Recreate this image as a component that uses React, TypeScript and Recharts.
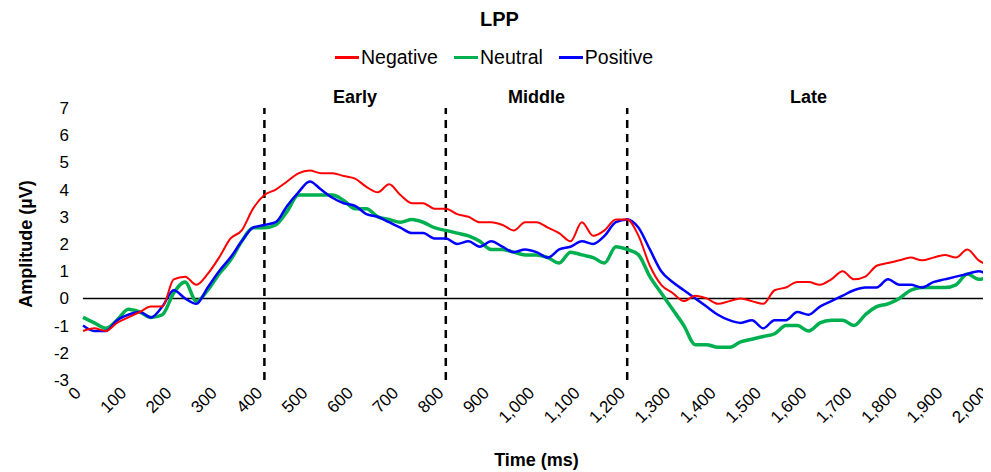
import React from 'react';
import { LineChart, Line, XAxis, YAxis, ReferenceLine, Label } from 'recharts';

const times = Array.from({ length: 81 }, (_, i) => i * 25);
const negative = [-1.2,-1.1,-1.2,-0.9,-0.7,-0.5,-0.3,-0.3,0.7,0.8,0.5,0.9,1.5,2.2,2.5,3.3,3.8,4.0,4.3,4.6,4.7,4.6,4.6,4.5,4.4,4.1,3.9,4.2,3.8,3.5,3.5,3.3,3.3,3.1,3.0,2.8,2.8,2.7,2.5,2.8,2.8,2.6,2.4,2.1,2.8,2.3,2.5,2.9,2.9,2.3,1.2,0.5,0.2,-0.1,0.1,0.0,-0.2,-0.1,0.0,-0.1,-0.2,0.3,0.4,0.6,0.6,0.5,0.7,1.0,0.7,0.8,1.2,1.3,1.4,1.5,1.4,1.5,1.6,1.5,1.8,1.4,1.2];
const neutral = [-0.7,-0.9,-1.1,-0.8,-0.4,-0.5,-0.7,-0.6,0.2,0.6,-0.1,0.3,0.9,1.4,2.1,2.6,2.6,2.7,3.2,3.8,3.8,3.8,3.8,3.6,3.3,3.3,3.0,2.9,2.8,2.9,2.8,2.6,2.5,2.4,2.3,2.1,1.8,1.8,1.7,1.6,1.6,1.5,1.3,1.7,1.6,1.5,1.3,1.9,1.8,1.6,0.8,0.2,-0.4,-1.0,-1.7,-1.7,-1.8,-1.8,-1.6,-1.5,-1.4,-1.3,-1.0,-1.0,-1.2,-0.9,-0.8,-0.8,-1.0,-0.6,-0.3,-0.2,0.0,0.3,0.4,0.4,0.4,0.5,0.9,0.7,0.8];
const positive = [-1.0,-1.2,-1.2,-0.8,-0.6,-0.5,-0.7,-0.3,0.3,0.0,-0.2,0.4,1.0,1.5,2.1,2.6,2.7,2.8,3.4,3.9,4.3,4.0,3.7,3.5,3.4,3.1,3.0,2.8,2.6,2.4,2.4,2.2,2.2,2.0,2.1,1.9,2.1,1.9,1.7,1.8,1.7,1.5,1.8,1.9,2.1,2.0,2.3,2.8,2.9,2.6,1.8,1.0,0.6,0.3,0.0,-0.3,-0.6,-0.8,-0.9,-0.8,-1.1,-0.8,-0.8,-0.5,-0.6,-0.3,-0.1,0.1,0.3,0.4,0.4,0.7,0.5,0.5,0.4,0.6,0.7,0.8,0.9,1.0,0.8];
const xTicks = Array.from({ length: 21 }, (_, i) => i * 100);
const yTicks = [-3,-2,-1,0,1,2,3,4,5,6,7];
const windows = [{ x: 600, name: 'Early' }, { x: 1000, name: 'Middle' }, { x: 1600, name: 'Late' }];
const bounds = [400, 800, 1200, 2000];

const data = times.map((t, i) => ({ t, negative: negative[i], neutral: neutral[i], positive: positive[i] }));
const font = 'Arial, "Liberation Sans", sans-serif';

const XTick = (props: any) => {
  const { x, y, payload } = props;
  const ax = x - 1;
  const ay = y + 6;
  return (
    <text x={ax} y={ay} textAnchor="end" transform={`rotate(-45 ${ax} ${ay})`} fontSize={17} fill="#000" fontFamily={font}>
      {payload.value.toLocaleString('en-US')}
    </text>
  );
};

const legendItems = [
  { label: 'Negative', color: '#ff0000' },
  { label: 'Neutral', color: '#00b050' },
  { label: 'Positive', color: '#0000ff' },
];

export default function App() {
  return (
    <div style={{ width: 983, fontFamily: font }}>
      <div style={{ height: 72, position: 'relative' }}>
        <div style={{ position: 'absolute', top: -2, width: 983, textAlign: 'center', fontWeight: 'bold', fontSize: 20, lineHeight: '26px' }}>LPP</div>
        <div style={{ position: 'absolute', top: 37, left: 327, display: 'flex', fontSize: 19.5, lineHeight: '24px' }}>
          {legendItems.map((it) => (
            <div key={it.label} style={{ display: 'flex', alignItems: 'center', marginRight: 16 }}>
              <div style={{ width: 24, height: 3, background: it.color, marginRight: 2 }} />
              <span>{it.label}</span>
            </div>
          ))}
        </div>
      </div>
      <LineChart width={983} height={392} data={data} margin={{ top: 28, right: 1, bottom: 12, left: 0 }}>
        <XAxis dataKey="t" type="number" domain={[0, 2000]} ticks={xTicks} axisLine={false} tickLine={false} tick={<XTick />} interval={0} height={80}>
          <Label value="Time (ms)" position="insideBottom" offset={-6} style={{ fontWeight: 'bold', fontSize: 18, fill: '#000', fontFamily: font }} />
        </XAxis>
        <YAxis domain={[-3, 7]} ticks={yTicks} axisLine={false} tickLine={false} width={75} tick={{ fontSize: 17, fill: '#000', fontFamily: font, dx: -6 }} interval={0}>
          <Label value="Amplitude (µV)" angle={-90} position="insideLeft" offset={18} style={{ fontWeight: 'bold', fontSize: 18, fill: '#000', textAnchor: 'middle', fontFamily: font }} />
        </YAxis>
        <ReferenceLine y={0} stroke="#000" strokeWidth={1.5} />
        {bounds.map((b) => (
          <ReferenceLine key={b} x={b} stroke="#000" strokeWidth={2.5} strokeDasharray="8 6" />
        ))}
        {windows.map((w) => (
          <ReferenceLine key={w.name} x={w.x} stroke="none" label={{ value: w.name, position: 'top', fontWeight: 'bold', fontSize: 18, fill: '#000', fontFamily: font }} />
        ))}
        <Line dataKey="neutral" stroke="#00b050" strokeWidth={3.5} dot={false} isAnimationActive={false} type="monotone" />
        <Line dataKey="positive" stroke="#0000ff" strokeWidth={2.5} dot={false} isAnimationActive={false} type="monotone" />
        <Line dataKey="negative" stroke="#ff0000" strokeWidth={2} dot={false} isAnimationActive={false} type="monotone" />
      </LineChart>
    </div>
  );
}
